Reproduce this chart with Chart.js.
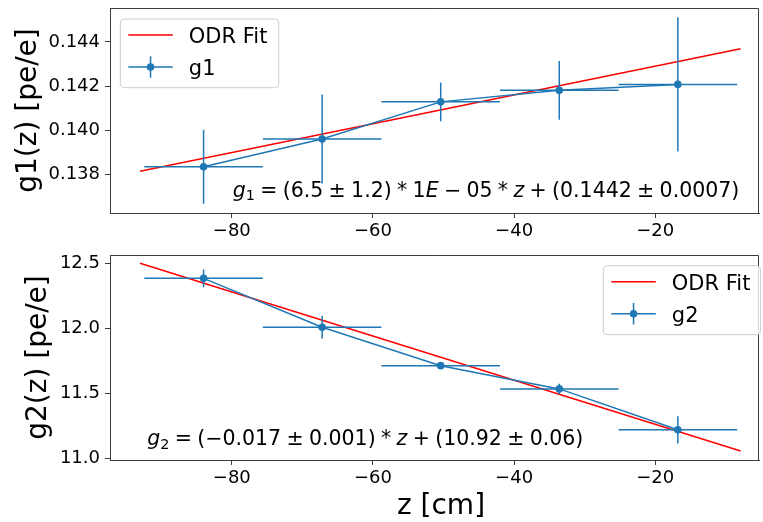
<!DOCTYPE html>
<html>
<head>
<meta charset="utf-8">
<script src="https://cdn.jsdelivr.net/npm/chart.js@4.4.0/dist/chart.umd.min.js"></script>
<style>
  html, body { margin: 0; padding: 0; background: #ffffff; overflow: hidden; }
  #figure { position: relative; width: 763px; height: 522px; overflow: hidden; background: #ffffff; }
  .panel { position: absolute; left: 0; }
  .panel canvas { display: block; }
  #panelTop { top: 0; }
  #panelBottom { top: 240px; }
</style>
</head>
<body>
<div id="figure">
  <div class="panel" id="panelTop"><canvas id="g1Chart" width="763" height="240"></canvas></div>
  <div class="panel" id="panelBottom"><canvas id="g2Chart" width="763" height="282"></canvas></div>
</div>
<script>
// z bins (bin centre and half width, cm)
const zCenters = [-84.0, -67.2, -50.4, -33.6, -16.8];
const zHalfWidth = [8.4, 8.4, 8.4, 8.4, 8.4];

// gain per bin with its uncertainty [pe/e]
const g1Values = [0.13836, 0.13961, 0.14129, 0.14181, 0.14208];
const g1Errors = [0.00167, 0.00201, 0.00087, 0.00133, 0.00303];
const g2Values = [12.385, 12.008, 11.712, 11.533, 11.218];
const g2Errors = [0.069, 0.087, 0.020, 0.040, 0.105];

// ODR straight-line fits: slope, intercept, and the z span the line is drawn over
const g1Fit = [6.5e-5, 0.1442];
const g2Fit = [-0.017, 10.92];
const fitZ = [-93.0, -7.9];

// axis ranges and tick steps
const zRange = [-97.26, -5.3];
const g1Range = [0.13627, 0.14553];
const g2Range = [10.985, 12.565];
const zStep = 20, g1Step = 0.002, g2Step = 0.5;

// fit result captions
const g1Caption = [['g','it'], ['1','sub'], 'op', ['='], 'op', ['(6.5'], 'op', ['\u00b1'], 'op', ['1.2)'], 'op', ['*'], 'op',
  ['1'], ['E','it'], 'op', ['\u2212'], 'op', ['05'], 'op', ['*'], 'op', ['z','it'], 'op', ['+'], 'op', ['(0.1442'], 'op', ['\u00b1'], 'op', ['0.0007)']];
const g2Caption = [['g','it'], ['2','sub'], 'op', ['='], 'op', ['(\u22120.017'], 'op', ['\u00b1'], 'op', ['0.001)'], 'op', ['*'], 'op',
  ['z','it'], 'op', ['+'], 'op', ['(10.92'], 'op', ['\u00b1'], 'op', ['0.06)']];

const BLUE = '#1f77b4', RED = '#ff0000', SPINE = '#3c3c3c';
const FONT = '"DejaVu Sans", "Liberation Sans", sans-serif';

const fmt = (v, digits) => (v < 0 ? '\u2212' : '') + Math.abs(v).toFixed(digits);

function drawCaption(ctx, parts, x, baseline, size) {
  let cx = x;
  ctx.fillStyle = '#000';
  ctx.textAlign = 'left';
  ctx.textBaseline = 'alphabetic';
  for (const p of parts) {
    if (p === 'op') { cx += size * 0.26; continue; }
    const [text, style] = p;
    const fs = style === 'sub' ? size * 0.7 : size;
    ctx.font = (style === 'it' ? 'italic ' : '') + fs + 'px ' + FONT;
    ctx.fillText(text, cx, baseline + (style === 'sub' ? size * 0.18 : 0));
    cx += ctx.measureText(text).width;
  }
}

function drawLegend(ctx, box, seriesLabel) {
  ctx.save();
  const r = 4;
  ctx.beginPath();
  ctx.moveTo(box.x + r, box.y);
  ctx.arcTo(box.x + box.w, box.y, box.x + box.w, box.y + box.h, r);
  ctx.arcTo(box.x + box.w, box.y + box.h, box.x, box.y + box.h, r);
  ctx.arcTo(box.x, box.y + box.h, box.x, box.y, r);
  ctx.arcTo(box.x, box.y, box.x + box.w, box.y, r);
  ctx.closePath();
  ctx.fillStyle = 'rgba(255,255,255,0.8)';
  ctx.fill();
  ctx.strokeStyle = '#cccccc';
  ctx.lineWidth = 1;
  ctx.stroke();

  const h0 = box.x + 8, h1 = box.x + 52.5, hc = (h0 + h1) / 2, tx = box.x + 68.5;
  const row1 = box.y + 16, row2 = box.y + 48;
  ctx.lineWidth = 1.5;
  ctx.strokeStyle = RED;
  ctx.beginPath(); ctx.moveTo(h0, row1); ctx.lineTo(h1, row1); ctx.stroke();
  ctx.strokeStyle = BLUE;
  ctx.beginPath();
  ctx.moveTo(h0, row2); ctx.lineTo(h1, row2);
  ctx.moveTo(hc, row2 - 10.8); ctx.lineTo(hc, row2 + 10.8);
  ctx.stroke();
  ctx.fillStyle = BLUE;
  ctx.beginPath(); ctx.arc(hc, row2, 3.8, 0, Math.PI * 2); ctx.fill();

  ctx.fillStyle = '#000';
  ctx.font = '21px ' + FONT;
  ctx.textAlign = 'left';
  ctx.textBaseline = 'alphabetic';
  ctx.fillText('ODR Fit', tx, row1 + 8);
  ctx.fillText(seriesLabel, tx, row2 + 8);
  ctx.restore();
}

function makePanel(canvasId, cfg) {
  const panelPlugin = {
    id: 'panel_' + canvasId,
    afterDatasetsDraw(chart) {
      const { ctx, chartArea: a, scales: { x, y } } = chart;
      ctx.save();
      ctx.beginPath(); ctx.rect(a.left, a.top, a.right - a.left, a.bottom - a.top); ctx.clip();
      ctx.strokeStyle = BLUE;
      ctx.lineWidth = 1.5;
      cfg.values.forEach((v, i) => {
        const px = x.getPixelForValue(zCenters[i]);
        const py = y.getPixelForValue(v);
        ctx.beginPath();
        ctx.moveTo(x.getPixelForValue(zCenters[i] - zHalfWidth[i]), py);
        ctx.lineTo(x.getPixelForValue(zCenters[i] + zHalfWidth[i]), py);
        ctx.moveTo(px, y.getPixelForValue(v - cfg.errors[i]));
        ctx.lineTo(px, y.getPixelForValue(v + cfg.errors[i]));
        ctx.stroke();
      });
      ctx.restore();
    },
    afterDraw(chart) {
      const { ctx, chartArea: a } = chart;
      ctx.save();
      // top and right spines
      const top = Math.round(a.top) + 0.5, right = Math.round(a.right) - 0.5;
      ctx.strokeStyle = SPINE;
      ctx.lineWidth = 1;
      ctx.beginPath();
      ctx.moveTo(a.left, top);
      ctx.lineTo(right, top);
      ctx.lineTo(right, a.bottom);
      ctx.stroke();

      // y axis title
      ctx.fillStyle = '#000';
      ctx.font = '28px ' + FONT;
      ctx.textAlign = 'center';
      ctx.textBaseline = 'alphabetic';
      ctx.save();
      ctx.translate(cfg.yTitleX, (a.top + a.bottom) / 2);
      ctx.rotate(-Math.PI / 2);
      ctx.fillText(cfg.yTitle, 0, 0);
      ctx.restore();

      if (cfg.xTitle) {
        ctx.fillText(cfg.xTitle, cfg.xTitleX, cfg.xTitleBaseline);
      }

      drawCaption(ctx, cfg.caption, cfg.captionX, cfg.captionBaseline, 20.5);
      drawLegend(ctx, cfg.legendBox, cfg.seriesLabel);
      ctx.restore();
    }
  };

  const fitValues = fitZ.map(z => cfg.fit[0] * z + cfg.fit[1]);

  return new Chart(document.getElementById(canvasId), {
    type: 'scatter',
    data: {
      datasets: [
        {
          label: 'ODR Fit',
          data: fitZ.map((z, i) => ({ x: z, y: fitValues[i] })),
          showLine: true,
          borderColor: RED,
          borderWidth: 1.5,
          pointRadius: 0,
          order: 2
        },
        {
          label: cfg.seriesLabel,
          data: zCenters.map((z, i) => ({ x: z, y: cfg.values[i] })),
          showLine: true,
          borderColor: BLUE,
          backgroundColor: BLUE,
          borderWidth: 1.5,
          pointRadius: 3.8,
          pointBorderWidth: 0,
          pointBackgroundColor: BLUE,
          order: 1
        }
      ]
    },
    options: {
      responsive: false,
      animation: false,
      events: [],
      layout: { padding: { top: cfg.padTop, right: 1, left: 0, bottom: 0 } },
      plugins: { legend: { display: false }, tooltip: { enabled: false } },
      scales: {
        x: {
          type: 'linear',
          position: 'bottom',
          min: zRange[0],
          max: zRange[1],
          afterFit(s) { s.height = cfg.xAxisHeight; s.paddingLeft = 0; s.paddingRight = 0; },
          grid: { display: true, drawOnChartArea: false, drawTicks: true, tickLength: 5, color: SPINE, tickColor: SPINE, lineWidth: 1 },
          border: { display: true, color: SPINE, width: 1 },
          ticks: {
            stepSize: zStep, includeBounds: false, padding: 3, color: '#000', autoSkip: false, maxRotation: 0,
            font: { family: FONT, size: 18 },
            callback: v => fmt(v, 0)
          }
        },
        y: {
          type: 'linear',
          position: 'left',
          min: cfg.range[0],
          max: cfg.range[1],
          afterFit(s) { s.width = 110; s.paddingTop = 0; s.paddingBottom = 0; },
          grid: { display: true, drawOnChartArea: false, drawTicks: true, tickLength: 5, color: SPINE, tickColor: SPINE, lineWidth: 1 },
          border: { display: true, color: SPINE, width: 1 },
          ticks: {
            stepSize: cfg.step, includeBounds: false, padding: 5, color: '#000', autoSkip: false,
            font: { family: FONT, size: 18 },
            callback: v => fmt(v, cfg.digits)
          }
        }
      }
    },
    plugins: [panelPlugin]
  });
}

makePanel('g1Chart', {
  values: g1Values, errors: g1Errors, fit: g1Fit, range: g1Range, step: g1Step, digits: 3,
  seriesLabel: 'g1', yTitle: 'g1(z) [pe/e]', yTitleX: 35.5,
  padTop: 8, xAxisHeight: 27,
  caption: g1Caption, captionX: 232.7, captionBaseline: 196.7,
  legendBox: { x: 120.3, y: 19, w: 158.4, h: 68.7 }
});

makePanel('g2Chart', {
  values: g2Values, errors: g2Errors, fit: g2Fit, range: g2Range, step: g2Step, digits: 1,
  seriesLabel: 'g2', yTitle: 'g2(z) [pe/e]', yTitleX: 46,
  padTop: 15, xAxisHeight: 62,
  xTitle: 'z [cm]', xTitleX: 441, xTitleBaseline: 273.5,
  caption: g2Caption, captionX: 147.3, captionBaseline: 205,
  legendBox: { x: 603.3, y: 25.7, w: 157.4, h: 69 }
});
</script>
</body>
</html>
